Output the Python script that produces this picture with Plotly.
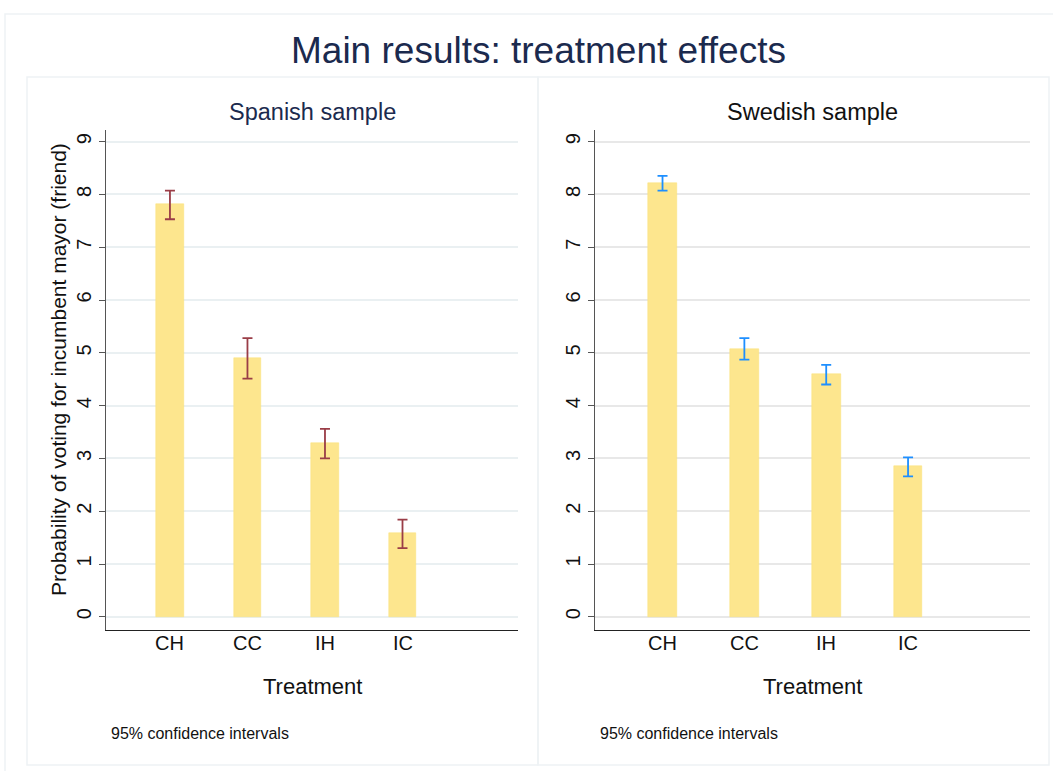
import plotly.graph_objects as go

categories = ["CH", "CC", "IH", "IC"]
spain_mean = [7.81, 4.91, 3.29, 1.58]
spain_lo = [7.53, 4.51, 3.00, 1.30]
spain_hi = [8.07, 5.28, 3.56, 1.84]
sweden_mean = [8.22, 5.08, 4.59, 2.85]
sweden_lo = [8.07, 4.87, 4.40, 2.66]
sweden_hi = [8.35, 5.28, 4.77, 3.02]
y_ticks = list(range(0, 10))

W, H = 1053, 771
FONT = "Liberation Sans, Arial, sans-serif"
xpos = list(range(len(categories)))

fig = go.Figure()

def add_panel(mean, lo, hi, ecolor, xa, ya):
    fig.add_trace(go.Bar(
        x=xpos, y=mean, width=0.35,
        marker=dict(color="#fde68e", line=dict(color="#fbe07a", width=0.5)),
        xaxis=xa, yaxis=ya, showlegend=False, hoverinfo="skip",
    ))
    fig.add_trace(go.Scatter(
        x=xpos, y=mean, mode="markers", marker=dict(size=0.1, color="rgba(0,0,0,0)"),
        error_y=dict(type="data", symmetric=False,
                     array=[h - m for h, m in zip(hi, mean)],
                     arrayminus=[m - l for m, l in zip(mean, lo)],
                     color=ecolor, thickness=1.8, width=5),
        xaxis=xa, yaxis=ya, showlegend=False, hoverinfo="skip",
    ))
    for xp, cat in zip(xpos, categories):
        fig.add_annotation(text=cat, x=xp, xref=xa, y=1 - 643 / H, yref="paper",
                           showarrow=False, xanchor="center", yanchor="middle",
                           font=dict(size=20, color="#111", family=FONT))

add_panel(spain_mean, spain_lo, spain_hi, "#9a3d47", "x", "y")
add_panel(sweden_mean, sweden_lo, sweden_hi, "#1e8fff", "x2", "y2")

ydom = [1 - 630 / H, 1 - 130 / H]
yaxis_common = dict(
    range=[-0.25, 9.22], tickvals=y_ticks, ticktext=[str(t) for t in y_ticks],
    tickangle=-90, ticks="outside", ticklen=6, tickcolor="#555", tickwidth=1,
    showline=True, linecolor="#555", linewidth=1.2, showgrid=True, gridwidth=1.5,
    zeroline=False, tickfont=dict(size=20, color="#111", family=FONT), domain=ydom,
)
xaxis_common = dict(
    range=[-0.825, 4.49], tickvals=xpos, showticklabels=False, ticks="",
    showline=True, linecolor="#222", linewidth=1.2, showgrid=False, zeroline=False,
)

fig.update_layout(
    width=W, height=H, margin=dict(l=0, r=0, t=0, b=0),
    paper_bgcolor="white", plot_bgcolor="white",
    xaxis=dict(domain=[106 / W, 518 / W], anchor="y", **xaxis_common),
    xaxis2=dict(domain=[595 / W, 1030 / W], anchor="y2", **xaxis_common),
    yaxis=dict(anchor="x", gridcolor="#eaf0f2", **yaxis_common),
    yaxis2=dict(anchor="x2", gridcolor="#e8e8e8", **yaxis_common),
    bargap=0,
)

# frames
fig.add_shape(type="rect", xref="paper", yref="paper",
              x0=5 / W, x1=1.2, y0=-0.2, y1=1 - 14 / H,
              line=dict(color="#eef2f5", width=1.5), fillcolor="rgba(0,0,0,0)", layer="below")
fig.add_shape(type="rect", xref="paper", yref="paper",
              x0=27 / W, x1=538 / W, y0=1 - 765 / H, y1=1 - 77 / H,
              line=dict(color="#eef2f5", width=1.5), fillcolor="rgba(0,0,0,0)", layer="below")
fig.add_shape(type="rect", xref="paper", yref="paper",
              x0=538 / W, x1=1049 / W, y0=1 - 765 / H, y1=1 - 77 / H,
              line=dict(color="#eef2f5", width=1.5), fillcolor="rgba(0,0,0,0)", layer="below")

fig.add_annotation(text="Main results: treatment effects", x=538 / W, y=1 - 51 / H,
                   xref="paper", yref="paper", showarrow=False, xanchor="center", yanchor="middle",
                   font=dict(size=37, color="#1b2a4e", family=FONT))
fig.add_annotation(text="Spanish sample", x=312 / W, y=1 - 112 / H,
                   xref="paper", yref="paper", showarrow=False, xanchor="center", yanchor="middle",
                   font=dict(size=23.5, color="#1b2a4e", family=FONT))
fig.add_annotation(text="Swedish sample", x=812 / W, y=1 - 112 / H,
                   xref="paper", yref="paper", showarrow=False, xanchor="center", yanchor="middle",
                   font=dict(size=23.5, color="#111", family=FONT))
fig.add_annotation(text="Probability of voting for incumbent mayor (friend)", x=58 / W, y=1 - 370 / H,
                   xref="paper", yref="paper", showarrow=False, xanchor="center", yanchor="middle",
                   textangle=-90, font=dict(size=21, color="#111", family=FONT))
for xx in (312, 812):
    fig.add_annotation(text="Treatment", x=xx / W, y=1 - 686 / H,
                       xref="paper", yref="paper", showarrow=False, xanchor="center", yanchor="middle",
                       font=dict(size=22, color="#111", family=FONT))
for xx in (109, 598):
    fig.add_annotation(text="95% confidence intervals", x=xx / W, y=1 - 733 / H,
                       xref="paper", yref="paper", showarrow=False, xanchor="left", yanchor="middle",
                       font=dict(size=16, color="#111", family=FONT))

fig.write_html("out.html", config={"displayModeBar": False},
               post_script="document.body.style.margin='0';document.body.style.overflow='hidden';")
